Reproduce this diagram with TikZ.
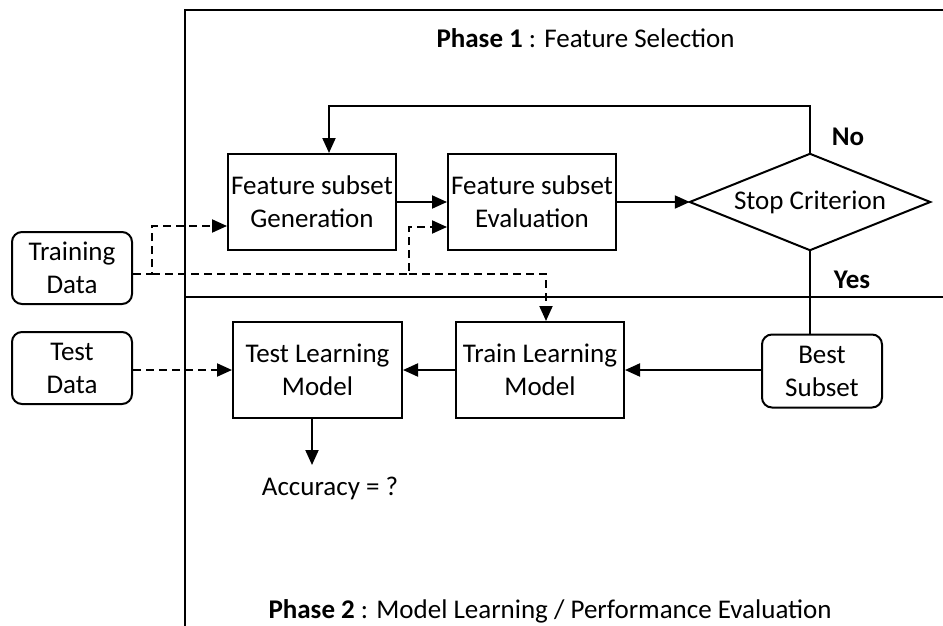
\documentclass[tikz,border=0pt]{standalone}
\usepackage{fontspec}
\setmainfont{Carlito}
\usetikzlibrary{arrows.meta}

\begin{document}
\begin{tikzpicture}[x=1pt,y=-1pt,
  every node/.style={font=\fontsize{27}{33}\selectfont},
  box/.style={draw, line width=2pt, minimum width=168pt, minimum height=96pt,
              align=center, inner sep=0pt},
  databox/.style={draw, line width=2pt, rounded corners=10pt, minimum width=120pt,
              minimum height=72pt, align=center, inner sep=0pt},
  decision/.style={minimum width=240pt, minimum height=96pt, inner sep=0pt},
  arr/.style={line width=2pt, -{Triangle[length=15pt,width=13pt]}},
  darr/.style={arr, dash pattern=on 8pt off 5pt},
  frameline/.style={line width=2pt},
  lab/.style={font=\fontsize{27}{33}\selectfont\bfseries}
]
\useasboundingbox (0,0) rectangle (943,626);

% phase frame and divider
\draw[frameline] (943,10) -- (185,10) -- (185,626);
\draw[frameline] (185,297) -- (943,297);

% titles
\node[anchor=base west] (p1) at (433,48) {\textbf{Phase 1} : Feature Selection};
\node[anchor=base west] (p2) at (265,618) {\textbf{Phase 2} : Model Learning / Performance Evaluation};

% data sources
\node[databox] (trd) at (72,268) {Training\\Data};
\node[databox] (ted) at (72,368) {Test\\Data};

% phase 1 blocks
\node[box] (gen) at (312,202) {Feature subset\\Generation};
\node[box] (eva) at (532,202) {Feature subset\\Evaluation};
\node[decision] (stop) at (810,202) {Stop Criterion};
\draw[line width=2pt, line join=miter]
  (stop.north) -- (stop.east) -- (stop.south) -- (stop.west) -- cycle;
\node[lab] (no) at (848,137) {No};
\node[lab] (yes) at (852,280) {Yes};

% phase 2 blocks
\node[databox, minimum height=73pt] (best) at (822,371) {Best\\Subset};
\node[box] (trm) at (540,370) {Train Learning\\Model};
\node[box, minimum width=169pt] (tem) at (317.5,370) {Test Learning\\Model};
\node (acc) at (330,488) {Accuracy = ?};

% helper points
\coordinate (loopL) at (329,106);
\coordinate (d1) at (152,274);
\coordinate (d2) at (409,274);
\coordinate (d3) at (546,274);
\coordinate (g1) at (152,226);
\coordinate (e1) at (409,227);
\coordinate (accTop) at (312,465);

% solid flow
\draw[arr] (gen.east) -- (eva.west);
\draw[arr] (eva.east) -- (stop.west);
\draw[arr] (stop.north) |- (loopL) -- (loopL |- gen.north);
\draw[line width=2pt] (stop.south) -- (stop.south |- best.north);
\draw[arr] (best.west |- trm.east) -- (trm.east);
\draw[arr] (trm.west) -- (tem.east);
\draw[arr] (accTop |- tem.south) -- (accTop);

% dashed data feeds
\draw[darr] (trd.east |- d1) -- (d1) -- (g1) -- (gen.west |- g1);
\draw[darr] (d1) -- (d2) -- (e1) -- (eva.west |- e1);
\draw[darr] (d2) -- (d3) -- (d3 |- trm.north);
\draw[darr] (ted.east |- tem.west) -- (tem.west);
\end{tikzpicture}
\end{document}
